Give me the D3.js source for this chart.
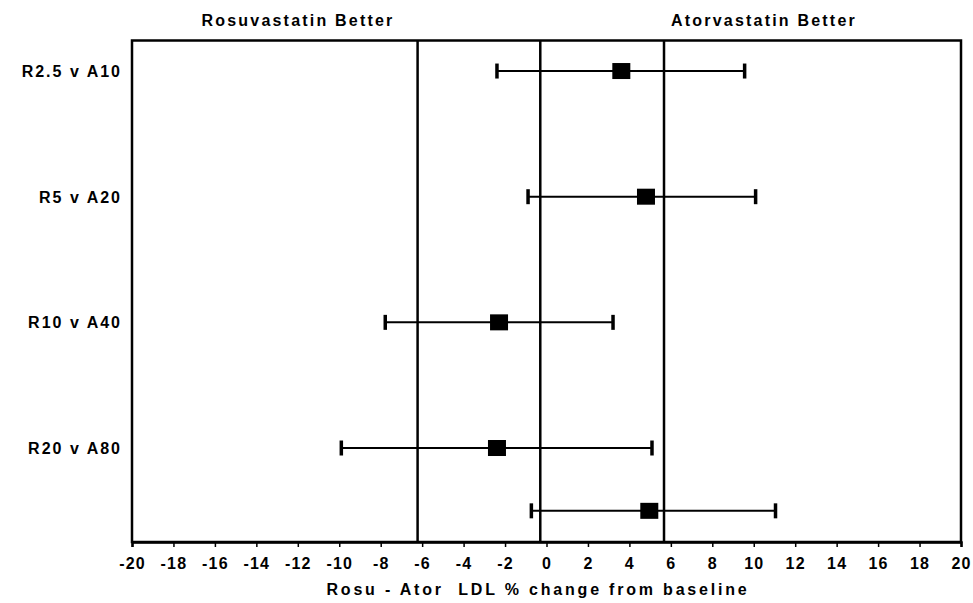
<!DOCTYPE html>
<html>
<head>
<meta charset="utf-8">
<script src="https://cdn.jsdelivr.net/npm/d3@7"></script>
<style>
  html, body { margin: 0; padding: 0; background: #fff; }
  svg { display: block; }
  text { font-family: "Liberation Sans", Arial, sans-serif; font-weight: bold; fill: #000; }
</style>
</head>
<body>
<svg id="chart" width="973" height="603"></svg>
<script>
// Comparison labels (the fifth row has no label)
const comparisons = ["R2.5 v A10", "R5 v A20", "R10 v A40", "R20 v A80", ""];
// Vertical position of each row on the y scale
const rowPositions = [1, 2, 3, 4, 4.5];
// Point estimates and interval limits (Rosu - Ator LDL % change)
const estimates = [3.61, 4.80, -2.29, -2.39, 4.96];
const lowerLimits = [-2.39, -0.89, -7.78, -9.90, -0.73];
const upperLimits = [9.56, 10.09, 3.21, 5.09, 11.05];
// Reference lines
const referenceLines = [-6.22, -0.3, 5.67];
// X axis ticks
const xTicks = d3.range(-20, 21, 2);
const headings = ["Rosuvastatin Better", "Atorvastatin Better"];
const xTitle = "Rosu - Ator  LDL % change from baseline";

const rows = comparisons.map((label, i) => ({
  label, pos: rowPositions[i], est: estimates[i], lo: lowerLimits[i], hi: upperLimits[i]
}));

const svg = d3.select("#chart");
const plotLeft = 132, plotRight = 961, plotTop = 40.5, plotBottom = 542;

const x = d3.scaleLinear().domain([-20, 20]).range([plotLeft, plotRight]);
const y = d3.scaleLinear().domain([0.757, 4.748]).range([plotTop, plotBottom]);

// Reference lines
svg.append("g").selectAll("line").data(referenceLines).join("line")
  .attr("x1", d => x(d)).attr("x2", d => x(d))
  .attr("y1", plotTop).attr("y2", plotBottom)
  .attr("stroke", "#000").attr("stroke-width", 2.5);

// Plot frame
svg.append("rect")
  .attr("x", plotLeft).attr("y", plotTop)
  .attr("width", plotRight - plotLeft).attr("height", plotBottom - plotTop)
  .attr("fill", "none").attr("stroke", "#000").attr("stroke-width", 2.5);

// X axis (plain hyphen for negative numbers)
const xAxis = d3.axisBottom(x).tickValues(xTicks).tickSize(5).tickPadding(11)
  .tickFormat(d => String(d));
const gx = svg.append("g").attr("transform", `translate(0,${plotBottom})`).call(xAxis);
gx.select(".domain").attr("stroke-width", 2.5);
gx.selectAll(".tick line").attr("stroke-width", 1.5);
gx.selectAll(".tick text")
  .style("font-family", '"Liberation Sans", Arial, sans-serif')
  .style("font-weight", "bold")
  .style("font-size", "16px")
  .style("letter-spacing", "1.2px")
  .attr("fill", "#000");

// Axis title
svg.append("text")
  .attr("x", 538).attr("y", 595)
  .attr("text-anchor", "middle")
  .style("font-size", "16px")
  .style("letter-spacing", "2.8px")
  .style("white-space", "pre")
  .text(xTitle);

// Headings above the plot
svg.selectAll(".heading").data(headings).join("text")
  .attr("class", "heading")
  .attr("x", (d, i) => i === 0 ? 298 : 764)
  .attr("y", 26)
  .attr("text-anchor", "middle")
  .style("font-size", "16px")
  .style("letter-spacing", "2.2px")
  .text(d => d);

// Row labels
svg.selectAll(".rowlabel").data(rows.filter(r => r.label)).join("text")
  .attr("class", "rowlabel")
  .attr("x", 122)
  .attr("y", d => y(d.pos) + 6)
  .attr("text-anchor", "end")
  .style("font-size", "16px")
  .style("letter-spacing", "2px")
  .text(d => d.label);

// Interval lines
const g = svg.append("g");
g.selectAll(".ci").data(rows).join("line")
  .attr("class", "ci")
  .attr("x1", d => x(d.lo)).attr("x2", d => x(d.hi))
  .attr("y1", d => y(d.pos)).attr("y2", d => y(d.pos))
  .attr("stroke", "#000").attr("stroke-width", 2);

// Caps
const capH = 15;
["lo", "hi"].forEach(k => {
  g.selectAll(".cap-" + k).data(rows).join("line")
    .attr("class", "cap-" + k)
    .attr("x1", d => x(d[k])).attr("x2", d => x(d[k]))
    .attr("y1", d => y(d.pos) - capH / 2).attr("y2", d => y(d.pos) + capH / 2)
    .attr("stroke", "#000").attr("stroke-width", 3.5);
});

// Point estimates
const sqW = 18, sqH = 16;
g.selectAll(".est").data(rows).join("rect")
  .attr("class", "est")
  .attr("x", d => x(d.est) - sqW / 2).attr("y", d => y(d.pos) - sqH / 2)
  .attr("width", sqW).attr("height", sqH)
  .attr("fill", "#000");
</script>
</body>
</html>
